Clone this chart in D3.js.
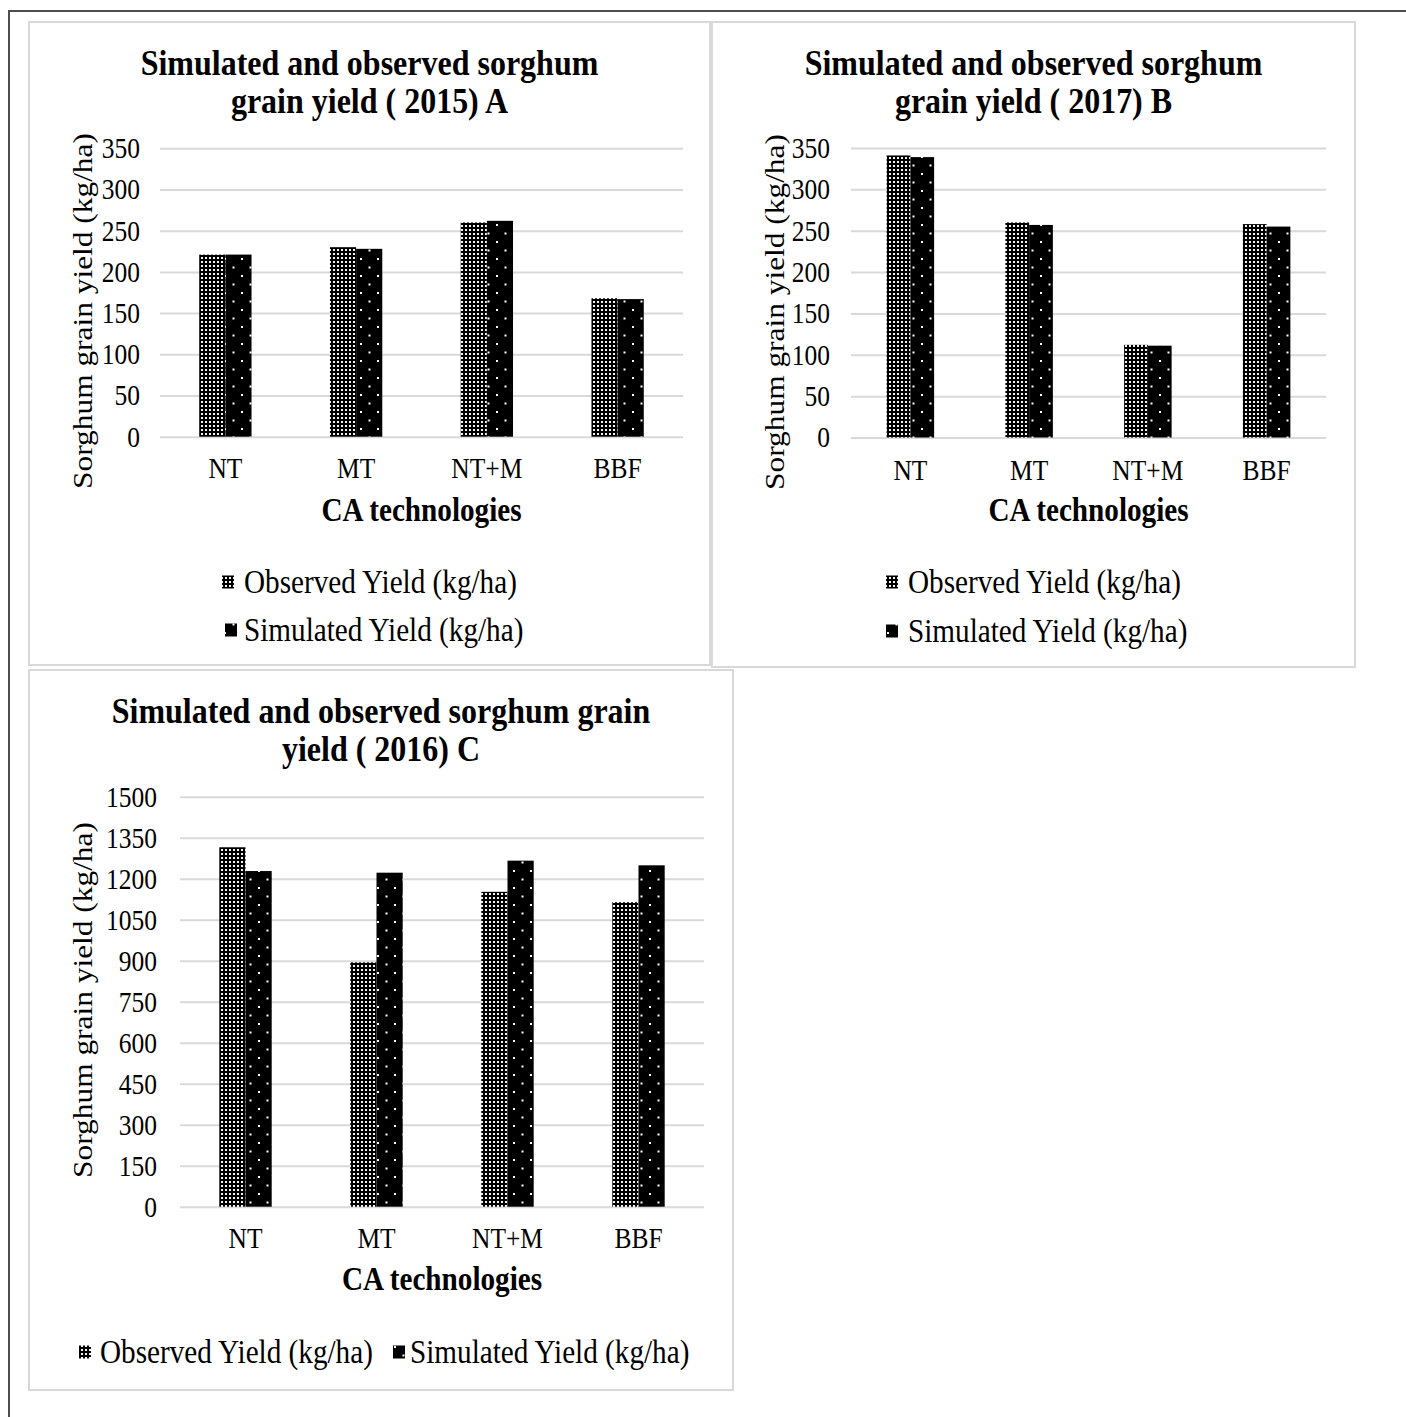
<!DOCTYPE html>
<html>
<head>
<meta charset="utf-8">
<script src="https://cdn.jsdelivr.net/npm/d3@7"></script>
<style>
  body { margin: 0; background: #fff; }
  text { font-family: "Liberation Serif", "Times New Roman", serif; fill: #000; }
</style>
</head>
<body>
<svg id="fig" width="1406" height="1417"></svg>
<script>
// ---- data -------------------------------------------------------------
const categories = ["NT", "MT", "NT+M", "BBF"];
const seriesNames = ["Observed Yield (kg/ha)", "Simulated Yield (kg/ha)"];

const observed2015  = [221, 230, 260, 168];
const simulated2015 = [221, 228, 262, 167];

const observed2017  = [341, 260, 112, 258];
const simulated2017 = [339, 257, 111, 255];

const observed2016  = [1315, 894, 1152, 1114];
const simulated2016 = [1228, 1222, 1266, 1249];

const ticks2015 = [0, 50, 100, 150, 200, 250, 300, 350];
const ticks2017 = [0, 50, 100, 150, 200, 250, 300, 350];
const ticks2016 = [0, 150, 300, 450, 600, 750, 900, 1050, 1200, 1350, 1500];

const yAxisTitle = "Sorghum grain yield (kg/ha)";
const xAxisTitle = "CA technologies";

// ---- layout -----------------------------------------------------------
const GRID = "#d9d9d9";
const VS = 1.15;   // lettering is slightly taller than wide
const FS = {title: 32, tick: 25.5, cat: 25.5, xTitle: 29.2, yTitle: 27.3, legend: 29.2};

const panels = [
  {
    box: {x: 29, y: 22, w: 681, h: 643},
    plot: {x0: 160, x1: 683, y0: 148.3, y1: 436.7},
    observed: observed2015, simulated: simulated2015, ticks: ticks2015,
    title: ["Simulated and observed sorghum", "grain yield ( 2015) A"],
    titleX: 369.5, titleY: [62, 100],
    yTitle: {x: 83, y: 311}, tickPad: 20,
    catY: 468, xTitleY: 510,
    legend: [{mx: 222, tx: 244, y: 582}, {mx: 225, tx: 244, y: 630}]
  },
  {
    box: {x: 712, y: 22, w: 643, h: 645},
    plot: {x0: 851, x1: 1326, y0: 148, y1: 437.5},
    observed: observed2017, simulated: simulated2017, ticks: ticks2017,
    title: ["Simulated and observed sorghum", "grain yield ( 2017) B"],
    titleX: 1033.5, titleY: [62, 100],
    yTitle: {x: 775, y: 312}, tickPad: 21,
    catY: 470, xTitleY: 510,
    legend: [{mx: 886, tx: 908, y: 582}, {mx: 886, tx: 908, y: 631}]
  },
  {
    box: {x: 29, y: 670, w: 704, h: 720},
    plot: {x0: 180, x1: 704, y0: 796.7, y1: 1206.7},
    observed: observed2016, simulated: simulated2016, ticks: ticks2016,
    title: ["Simulated and observed sorghum grain", "yield ( 2016) C"],
    titleX: 381, titleY: [710, 748],
    yTitle: {x: 83, y: 1000}, tickPad: 23,
    catY: 1238, xTitleY: 1279,
    legend: [{mx: 79, tx: 100, y: 1352}, {mx: 393, tx: 410, y: 1352}]
  }
];

const svg = d3.select("#fig");
svg.append("rect").attr("width", 1406).attr("height", 1417).attr("fill", "#fff");

// ---- fill patterns ----------------------------------------------------
const defs = svg.append("defs");
const pObs = defs.append("pattern").attr("id", "patObs")
  .attr("patternUnits", "userSpaceOnUse").attr("width", 4).attr("height", 4);
pObs.append("rect").attr("width", 4).attr("height", 4).attr("fill", "#000");
pObs.append("rect").attr("x", 1).attr("y", 1).attr("width", 2).attr("height", 2).attr("fill", "#f2f2f2");

const pSim = defs.append("pattern").attr("id", "patSim")
  .attr("patternUnits", "userSpaceOnUse").attr("width", 17).attr("height", 17);
pSim.append("rect").attr("width", 17).attr("height", 17).attr("fill", "#000");
pSim.append("rect").attr("x", 3).attr("y", 3).attr("width", 2).attr("height", 2).attr("fill", "#fff");
pSim.append("rect").attr("x", 11.5).attr("y", 11.5).attr("width", 2).attr("height", 2).attr("fill", "#fff");

const fills = ["url(#patObs)", "url(#patSim)"];

// outer frame
svg.append("rect").attr("x", 9).attr("y", 11).attr("width", 2000).attr("height", 2000)
  .attr("fill", "none").attr("stroke", "#4d4d4d").attr("stroke-width", 2);

function label(g, x, y, str, size, opts = {}) {
  const rot = opts.rotate ? " rotate(-90)" : "";
  return g.append("text")
    .attr("transform", `translate(${x},${y}) scale(1,${VS})${rot}`)
    .attr("dy", "0.34em")
    .attr("text-anchor", opts.anchor || "middle")
    .style("font-size", size + "px")
    .style("font-weight", opts.bold ? "bold" : "normal")
    .text(str);
}

panels.forEach(p => {
  const g = svg.append("g");

  // chart area border
  g.append("rect")
    .attr("x", p.box.x).attr("y", p.box.y).attr("width", p.box.w).attr("height", p.box.h)
    .attr("fill", "#fff").attr("stroke", GRID).attr("stroke-width", 2);

  const x = d3.scaleBand().domain(categories).range([p.plot.x0, p.plot.x1]).padding(0);
  const maxTick = p.ticks[p.ticks.length - 1];
  const y = d3.scaleLinear().domain([0, maxTick]).range([p.plot.y1, p.plot.y0]);
  const w = p.plot.x1 - p.plot.x0;

  // value axis with gridlines
  const yAxis = g.append("g")
    .attr("transform", `translate(${p.plot.x0},0)`)
    .call(d3.axisLeft(y).tickValues(p.ticks).tickSize(-w).tickPadding(p.tickPad)
      .tickFormat(d3.format("d")));
  yAxis.select(".domain").remove();
  yAxis.selectAll(".tick line").attr("stroke", GRID).attr("stroke-width", 2);
  yAxis.selectAll(".tick text")
    .attr("fill", "#000")
    .attr("transform", `scale(1,${VS})`)
    .style("font-family", '"Liberation Serif", serif')
    .style("font-size", FS.tick + "px");

  // bars
  const bw = x.bandwidth() * 0.2;
  [p.observed, p.simulated].forEach((vals, si) => {
    g.append("g").selectAll("rect")
      .data(vals)
      .join("rect")
      .attr("x", (d, i) => x(categories[i]) + x.bandwidth() / 2 - bw + si * bw)
      .attr("y", d => y(d))
      .attr("width", bw)
      .attr("height", d => y(0) - y(d))
      .attr("fill", fills[si]);
  });

  // category axis
  const xAxis = g.append("g")
    .attr("transform", `translate(0,${p.catY})`)
    .call(d3.axisBottom(x).tickSize(0).tickPadding(0));
  xAxis.select(".domain").remove();
  xAxis.selectAll(".tick text")
    .attr("y", 0).attr("dy", "0.34em")
    .attr("fill", "#000")
    .attr("transform", `scale(1,${VS})`)
    .style("font-family", '"Liberation Serif", serif')
    .style("font-size", FS.cat + "px");

  // titles
  p.title.forEach((line, i) => label(g, p.titleX, p.titleY[i], line, FS.title, {bold: true}));
  label(g, (p.plot.x0 + p.plot.x1) / 2, p.xTitleY, xAxisTitle, FS.xTitle, {bold: true});
  label(g, p.yTitle.x, p.yTitle.y, yAxisTitle, FS.yTitle, {rotate: true});

  // legend
  p.legend.forEach((L, i) => {
    g.append("rect")
      .attr("x", L.mx).attr("y", L.y - 6.5)
      .attr("width", 12).attr("height", 13)
      .attr("fill", fills[i]);
    label(g, L.tx, L.y, seriesNames[i], FS.legend, {anchor: "start"});
  });
});
</script>
</body>
</html>
